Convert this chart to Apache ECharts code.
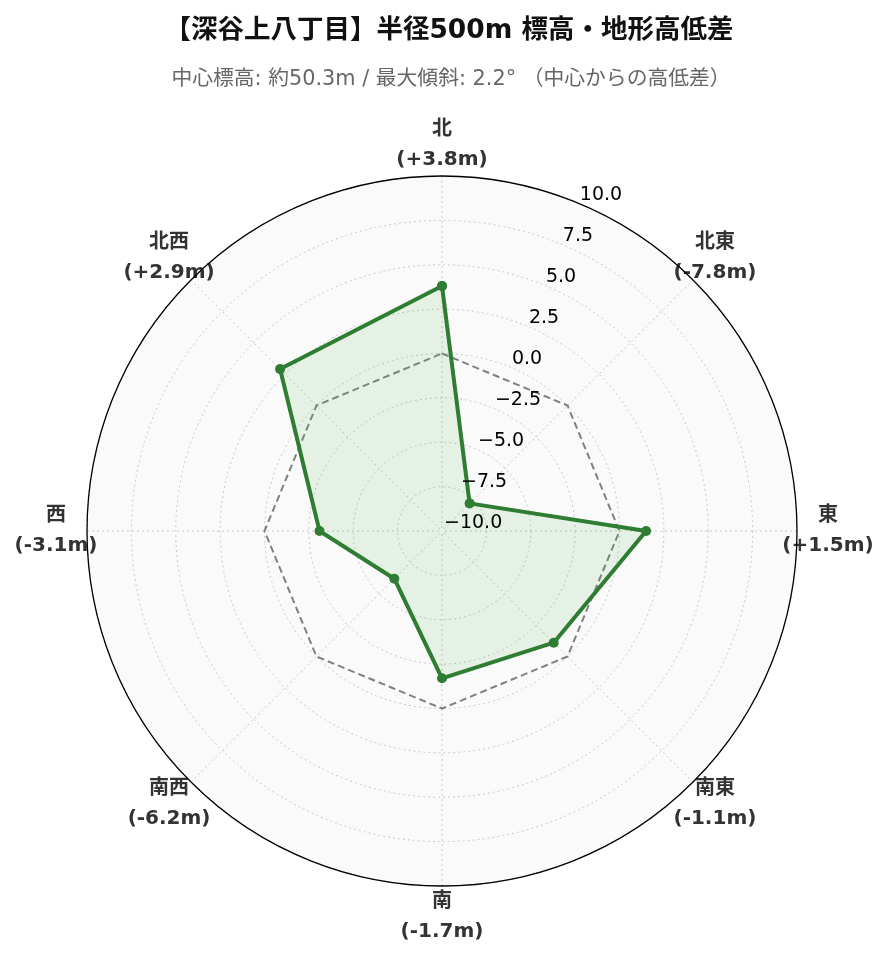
<!DOCTYPE html>
<html><head><meta charset="utf-8">
<script src="https://cdn.jsdelivr.net/npm/echarts@6/dist/echarts.min.js"></script>
<style>html,body{margin:0;padding:0;background:#fff}#c{width:889px;height:962px}</style>
</head><body><div id="c"></div>
<script>
const directions = ['北','北東','東','南東','南','南西','西','北西'];
const angles = [0,45,90,135,180,225,270,315];
const diffs = [3.8,-7.8,1.5,-1.1,-1.7,-6.2,-3.1,2.9];
const diffLabels = ['+3.8m','-7.8m','+1.5m','-1.1m','-1.7m','-6.2m','-3.1m','+2.9m'];
const zeroLine = [0,0,0,0,0,0,0,0];
const titleText = '【深谷上八丁目】半径500m 標高・地形高低差';
const subText = '中心標高: 約50.3m / 最大傾斜: 2.2° （中心からの高低差）';

function closed(vals){
  const d = vals.map((v,i)=>[v, angles[i]]);
  d.push([vals[0], 360]);
  return d;
}
const FONT = '"DejaVu Sans", "Noto Sans CJK JP"';
const C = ['442px','531px'];
const R = 355;          // polar radius in px
const LABEL_R = 386;    // where angle labels are centred
const ANCHOR_R = 250;   // where ECharts anchors them (R + margin)
const LH = 30;          // label line height
// build rich styles so that each two-line label is centred on LABEL_R
const rich = {};
angles.forEach(function(a,i){
  const rad = a*Math.PI/180, sx = Math.sin(rad), cy = Math.cos(rad);
  const hCenter = Math.abs(ANCHOR_R*sx)/R < 0.3;
  const vMiddle = Math.abs(ANCHOR_R*cy)/R < 0.3;
  const W = hCenter ? 140 : 2*(LABEL_R-ANCHOR_R)*Math.abs(sx);
  const sp = vMiddle ? 0 : (LABEL_R-ANCHOR_R)*Math.abs(cy) - LH;
  const base = {width:W, align:'center', lineHeight:LH, fontSize:20, fontWeight:'bold', color:'#333', fontFamily:FONT};
  rich['d'+i] = base;
  rich['s'+i] = {width:W, lineHeight:Math.max(sp,1), fontSize:1, color:'rgba(0,0,0,0)'};
});
function angleLabel(v){
  const i = angles.indexOf(v);
  if (i < 0 || v === 360) return '';
  const rad = v*Math.PI/180, cy = Math.cos(rad);
  const vMiddle = Math.abs(ANCHOR_R*cy)/R < 0.3;
  const body = '{d'+i+'|'+directions[i]+'}\n{d'+i+'|('+diffLabels[i]+')}';
  if (vMiddle) return body;
  return cy > 0 ? body + '\n{s'+i+'| }' : '{s'+i+'| }\n' + body;
}
const chart = echarts.init(document.getElementById('c'));
chart.setOption({
  backgroundColor:'#ffffff',
  animation:false,
  title:[
    {text:titleText,left:444,top:13,textAlign:'center',
     textStyle:{fontFamily:FONT,fontWeight:'bold',fontSize:26.5,color:'#111'}},
    {text:subText,left:446,top:64,textAlign:'center',
     textStyle:{fontFamily:FONT,fontWeight:'normal',fontSize:20.8,color:'#666'}}
  ],
  polar:[{center:C,radius:R},{center:C,radius:R}],
  angleAxis:[{
    polarIndex:0,type:'value',min:0,max:360,interval:45,startAngle:90,clockwise:true,z:1,
    axisLine:{show:true,lineStyle:{color:'#000',width:1.3}},
    axisTick:{show:false},
    splitLine:{show:true,lineStyle:{color:'#c8c8c8',type:[2,3],width:1}},
    splitArea:{show:false},
    axisLabel:{margin:ANCHOR_R-R,formatter:angleLabel,rich:rich,fontFamily:FONT,fontSize:20,fontWeight:'bold',color:'#333'}
  },{
    polarIndex:1,type:'value',min:0,max:360,interval:45,startAngle:67.5,z:-1,
    axisLine:{show:false},axisTick:{show:false},axisLabel:{show:false},splitLine:{show:false},
    splitArea:{show:true,areaStyle:{color:['#fafafa','#fafafa']}}
  }],
  radiusAxis:[{
    polarIndex:0,type:'value',min:-10,max:10,interval:2.5,z:1,
    axisLine:{show:false},axisTick:{show:false},axisLabel:{show:false},
    splitLine:{show:true,lineStyle:{color:'#c8c8c8',type:[2,3],width:1}}
  },{
    polarIndex:1,type:'value',min:-10,max:10,interval:2.5,z:10,
    axisLine:{show:false},axisTick:{show:false},splitLine:{show:false},
    axisLabel:{show:true,margin:0,align:'left',verticalAlign:'bottom',lineHeight:16,
      fontFamily:'DejaVu Sans',fontSize:19,color:'#000',padding:[0,0,0,2],
      formatter:function(v){return (v<0?'\u2212':'')+Math.abs(v).toFixed(1);}}
  }],
  series:[{
    type:'line',coordinateSystem:'polar',polarIndex:0,
    data:closed(zeroLine),symbol:'none',
    lineStyle:{color:'#808080',width:2,type:[7,4]},z:3
  },{
    type:'line',coordinateSystem:'polar',polarIndex:0,
    data:closed(diffs),symbol:'circle',symbolSize:10,
    itemStyle:{color:'#2e7d32'},
    lineStyle:{color:'#2e7d32',width:4},
    areaStyle:{color:'rgba(76,175,80,0.17)',origin:'start'},z:4
  }]
});
</script></body></html>
